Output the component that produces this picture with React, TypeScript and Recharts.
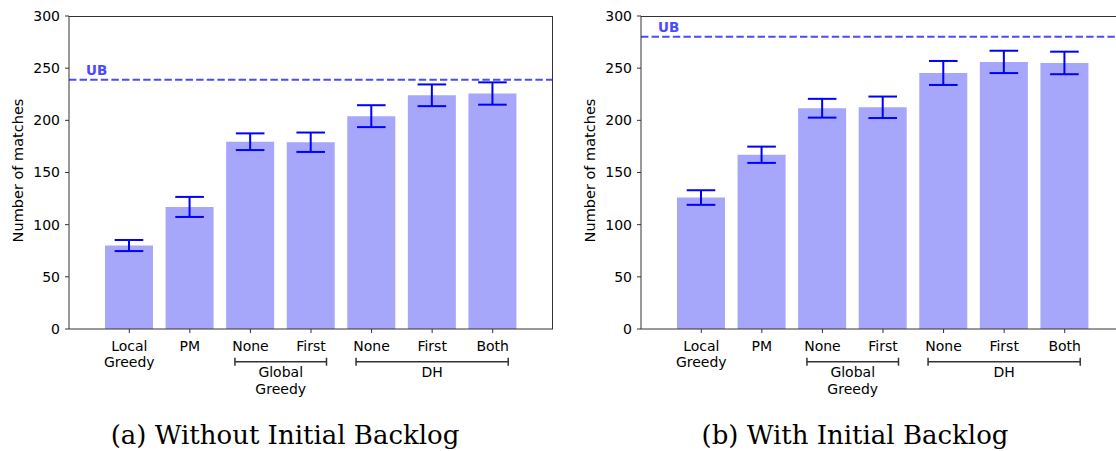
import React from 'react';
import { BarChart, Bar, XAxis, YAxis, ErrorBar, ReferenceLine } from 'recharts';

// categories along the x axis (\n = line break in the tick label)
const categories = ['Local\nGreedy', 'PM', 'None', 'First', 'None', 'First', 'Both'];
// bracketed groups below the tick labels (index range into categories)
const groups = [
  { label: 'Global\nGreedy', from: 2, to: 3 },
  { label: 'DH', from: 4, to: 6 },
];
const yTicks = [0, 50, 100, 150, 200, 250, 300];

// (a) Without Initial Backlog
const withoutBacklog = [80, 117, 179.5, 179, 204, 224, 225.7];
const withoutBacklogErr = [5.3, 9.6, 8, 9.3, 10.5, 10.4, 10.7];
const withoutBacklogUB = 239;

// (b) With Initial Backlog
const withBacklog = [126, 167, 211.6, 212.5, 245.4, 256, 255];
const withBacklogErr = [7, 7.8, 9, 10.3, 11.5, 10.7, 10.8];
const withBacklogUB = 280;

const FONT = '"DejaVu Sans", sans-serif';
const FS = 14;
const AXIS = '#333';
const CHART_W = 570;
const CHART_H = 451;
const AXIS_W = 69;
const PAD = 30;
const margin = { top: 16, right: 17, bottom: 42, left: 0 };
const PLOT_W = CHART_W - margin.right - AXIS_W;
const PLOT_H = CHART_H - margin.top - margin.bottom - 80;
const STEP = (PLOT_W - 2 * PAD) / categories.length;

function XTick(props: any) {
  const { x, y, index } = props;
  const lines = categories[index].split('\n');
  const group = groups.find((g) => g.from === index);
  return (
    <g fontFamily={FONT} fontSize={FS} fill="#000">
      {lines.map((l, i) => (
        <text key={i} x={x} y={y + 17.8 + i * 16.6} textAnchor="middle" fill="#000">
          {l}
        </text>
      ))}
      {group && (() => {
        const x1 = x - 15.5;
        const x2 = x + (group.to - group.from) * STEP + 15.5;
        const by = y + 28.7;
        const mid = (x1 + x2) / 2;
        return (
          <g>
            <line x1={x1} x2={x2} y1={by} y2={by} stroke={AXIS} strokeWidth={1.5} />
            <line x1={x1} x2={x1} y1={by - 4} y2={by + 4} stroke={AXIS} strokeWidth={1.5} />
            <line x1={x2} x2={x2} y1={by - 4} y2={by + 4} stroke={AXIS} strokeWidth={1.5} />
            {group.label.split('\n').map((l, i) => (
              <text key={i} x={mid} y={y + 43.9 + i * 16.6} textAnchor="middle" fill="#000">
                {l}
              </text>
            ))}
          </g>
        );
      })()}
    </g>
  );
}

function Panel({ values, errors, ub }: { values: number[]; errors: number[]; ub: number }) {
  const data = categories.map((c, i) => ({ key: `c${i}`, value: values[i], err: errors[i] }));
  return (
    <div style={{ position: 'relative', width: CHART_W, height: CHART_H }}>
      <BarChart width={CHART_W} height={CHART_H} data={data} margin={margin} barCategoryGap={0}>
        <XAxis
          dataKey="key"
          padding={{ left: PAD, right: PAD }}
          height={80}
          tickSize={4}
          tickMargin={0}
          interval={0}
          axisLine={{ stroke: AXIS }}
          tickLine={{ stroke: AXIS }}
          tick={<XTick />}
        />
        <YAxis
          domain={[0, 300]}
          ticks={yTicks}
          width={AXIS_W}
          tickSize={4}
          tickMargin={5}
          axisLine={{ stroke: AXIS }}
          tickLine={{ stroke: AXIS }}
          tick={{ fill: '#000', fontSize: FS, fontFamily: FONT }}
          label={(p: any) => {
            const vb = p.viewBox;
            const cx = vb.x + 23;
            const cy = vb.y + vb.height / 2 - 2;
            return (
              <text
                x={cx}
                y={cy}
                transform={`rotate(-90 ${cx} ${cy})`}
                textAnchor="middle"
                fontFamily={FONT}
                fontSize={14.5}
                fill="#000"
              >
                Number of matches
              </text>
            );
          }}
        />
        <Bar dataKey="value" fill="#a6a6fa" barSize={48} isAnimationActive={false}>
          <ErrorBar dataKey="err" width={14.3} stroke="#0000ff" strokeWidth={2} isAnimationActive={false} />
        </Bar>
        <ReferenceLine
          y={ub}
          stroke="#4a4aff"
          strokeWidth={2}
          strokeDasharray="7.4 3.2"
          label={(p: any) => {
            const vb = p.viewBox;
            return (
              <text x={vb.x + 17} y={vb.y - 5} fontFamily={FONT} fontSize={13.5} fontWeight="bold" fill="#4a4aff">
                UB
              </text>
            );
          }}
        />
      </BarChart>
      {/* top and right spines of the axes box */}
      <div
        style={{
          position: 'absolute',
          left: AXIS_W,
          top: margin.top,
          width: PLOT_W,
          height: PLOT_H,
          boxSizing: 'border-box',
          borderTop: `1px solid ${AXIS}`,
          borderRight: `1px solid ${AXIS}`,
          pointerEvents: 'none',
        }}
      />
    </div>
  );
}

const captionStyle: React.CSSProperties = {
  position: 'absolute',
  top: 419,
  fontFamily: '"DejaVu Serif", serif',
  fontSize: 26,
  lineHeight: '32px',
  whiteSpace: 'nowrap',
  transform: 'translateX(-50%)',
  color: '#000',
};

export default function App() {
  return (
    <div
      style={{
        position: 'absolute',
        left: 0,
        top: 0,
        width: 1116,
        height: 451,
        overflow: 'hidden',
        background: '#fff',
      }}
    >
      <div style={{ position: 'absolute', left: 0, top: 0 }}>
        <Panel values={withoutBacklog} errors={withoutBacklogErr} ub={withoutBacklogUB} />
      </div>
      <div style={{ position: 'absolute', left: 572, top: 0 }}>
        <Panel values={withBacklog} errors={withBacklogErr} ub={withBacklogUB} />
      </div>
      <div style={{ ...captionStyle, left: 285 }}>(a) Without Initial Backlog</div>
      <div style={{ ...captionStyle, left: 855 }}>(b) With Initial Backlog</div>
    </div>
  );
}
